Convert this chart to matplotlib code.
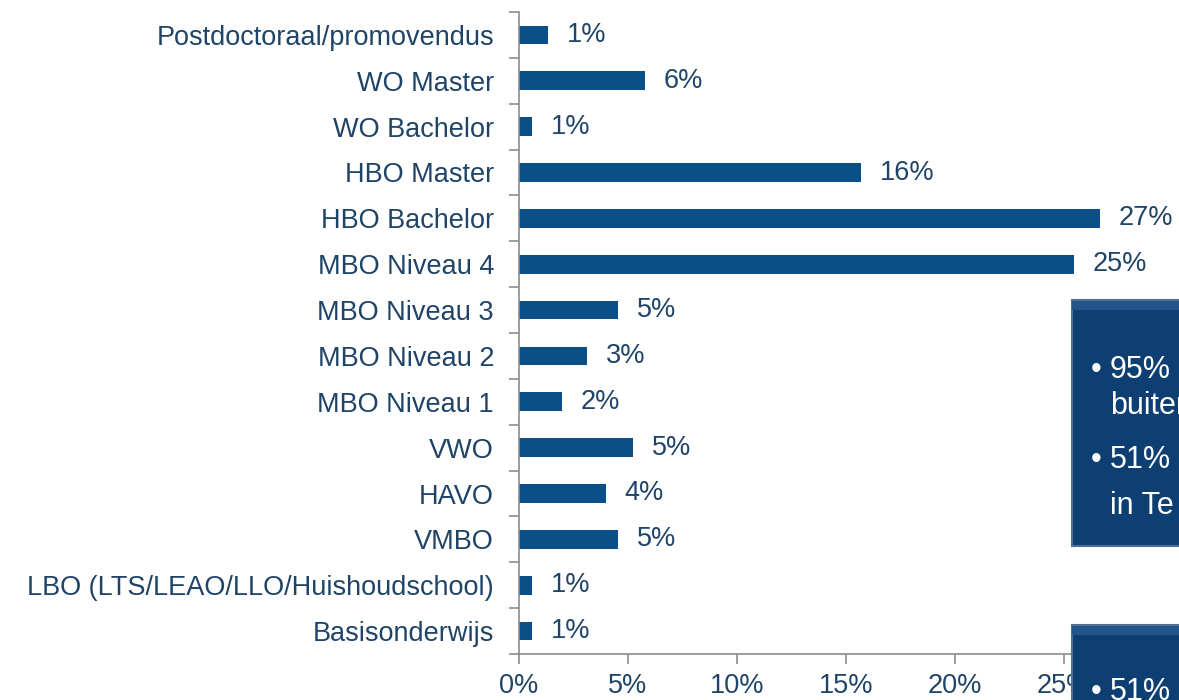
import matplotlib

matplotlib.use("Agg")
import matplotlib.pyplot as plt
from matplotlib.patches import Rectangle

plt.rcParams["font.family"] = ["Liberation Sans", "DejaVu Sans"]

categories = [
    "Postdoctoraal/promovendus",
    "WO Master",
    "WO Bachelor",
    "HBO Master",
    "HBO Bachelor",
    "MBO Niveau 4",
    "MBO Niveau 3",
    "MBO Niveau 2",
    "MBO Niveau 1",
    "VWO",
    "HAVO",
    "VMBO",
    "LBO (LTS/LEAO/LLO/Huishoudschool)",
    "Basisonderwijs",
]
values = [1.33, 5.8, 0.6, 15.7, 26.65, 25.46, 4.54, 3.12, 1.97, 5.23, 3.99, 4.54, 0.6, 0.6]
xticks = [0, 5, 10, 15, 20, 25, 30]
box_lines = ["95%", "buiten", "51%", "in Te"]
box2_lines = ["51%"]

bar_color = "#0A4F87"
text_color = "#1F4467"
axis_color = "#8C8C8C"
fs = 19.5

fig = plt.figure(figsize=(11.79, 7.0), dpi=100)
ax = fig.add_axes([519 / 1179, 1 - 654 / 700, 654 / 1179, 642 / 700])

n = len(categories)
ypos = list(range(n))
ax.barh(ypos, values, height=0.41, color=bar_color)
for y, v in zip(ypos, values):
    ax.text(v + 0.85, y, f"{v:.0f}%", va="center", ha="left",
            fontsize=fs, color=text_color)

ax.set_ylim(n - 0.5, -0.5)
ax.set_xlim(0, 30)
ax.set_yticks(ypos)
ax.set_yticklabels(categories, fontsize=fs, color=text_color)
ax.tick_params(axis="y", length=0, pad=18)
# boundary ticks between categories
ax.set_yticks([i - 0.5 for i in range(n + 1)], minor=True)
ax.tick_params(axis="y", which="minor", length=7, color=axis_color, width=1.2)
ax.set_xticks(xticks)
ax.set_xticklabels([f"{t}%" for t in xticks], fontsize=fs, color=text_color)
ax.tick_params(axis="x", length=7, color=axis_color, width=1.2, pad=7)

for side in ("top", "right"):
    ax.spines[side].set_visible(False)
for side in ("left", "bottom"):
    ax.spines[side].set_color(axis_color)
    ax.spines[side].set_linewidth(1.2)

# dark text boxes overlapping the right edge
box_color = "#0E3F72"
for (x0, y0, h) in [(1072, 300, 246), (1072, 625, 90)]:
    fig.patches.append(Rectangle((x0 / 1179, 1 - (y0 + h) / 700), 200 / 1179, h / 700,
                                 transform=fig.transFigure, facecolor=box_color,
                                 edgecolor="#4F6F96", linewidth=1.5, zorder=5))
    # lighter bevel strip along the top
    fig.patches.append(Rectangle((x0 / 1179, 1 - (y0 + 10) / 700), 200 / 1179, 9 / 700,
                                 transform=fig.transFigure, facecolor="#24558A",
                                 edgecolor="none", zorder=5.5))

box_y = [370, 406, 460, 506]
for txt, y in zip(box_lines, box_y):
    if txt[0].isdigit():
        fig.text(1091 / 1179, 1 - y / 700, "\u2022", color="white", fontsize=22,
                 va="center", ha="left", zorder=6)
    fig.text(1110 / 1179, 1 - y / 700, txt, color="white", fontsize=22,
             va="center", ha="left", zorder=6)
for txt in box2_lines:
    fig.text(1091 / 1179, 1 - 692 / 700, "\u2022", color="white", fontsize=22,
             va="center", ha="left", zorder=6)
    fig.text(1110 / 1179, 1 - 692 / 700, txt, color="white", fontsize=22,
             va="center", ha="left", zorder=6)

fig.savefig("out.png", dpi=100)
